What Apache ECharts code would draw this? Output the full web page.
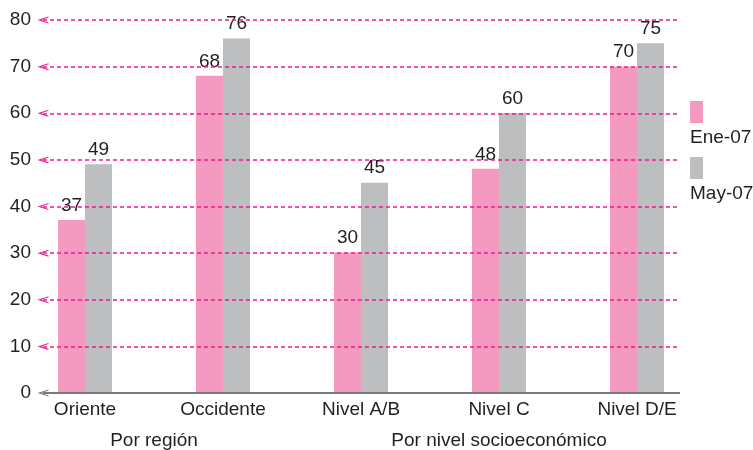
<!DOCTYPE html>
<html>
<head>
<meta charset="utf-8">
<script src="https://cdn.jsdelivr.net/npm/echarts@6/dist/echarts.min.js"></script>
<style>html,body{margin:0;padding:0;background:#fff}#c{width:753px;height:450px}</style>
</head>
<body>
<div id="c"></div>
<script>
// Chart data
const categories = ['Oriente', 'Occidente', 'Nivel A/B', 'Nivel C', 'Nivel D/E'];
const groupLabels = ['', '', 'Por región', '', '', '', '', 'Por nivel socioeconómico', '', '', ''];
const seriesNames = ['Ene-07', 'May-07'];
const ene07 = [37, 68, 30, 48, 70];
const may07 = [49, 76, 45, 60, 75];
const yTicks = [10, 20, 30, 40, 50, 60, 70, 80];

const textColor = '#231f20';
const font = 'Liberation Sans, Arial, Helvetica, sans-serif';
const pink = '#f49ac1';
const grey = '#bcbec0';
const magenta = '#ec1c8c';
const baseGrey = '#7a7a7a';
// open chevron used at the left end of each guide line
const chevron = 'path://M0,10 L5,0 L10,10 L8.4,10 L5,3.4 L1.6,10 Z';

const noSplit = { show: false };

const chart = echarts.init(document.getElementById('c'), null, { renderer: 'canvas' });
chart.setOption({
  animation: false,
  textStyle: { fontFamily: font },
  grid: [
    { left: 43, right: 73, top: 20, bottom: 57 },
    { left: 16, right: 47, top: 20, bottom: 57 }
  ],
  xAxis: [
    { gridIndex: 0, type: 'value', min: 0, max: 1, show: false, splitLine: noSplit },
    {
      gridIndex: 1, type: 'category', data: categories, splitLine: noSplit,
      axisLine: { show: false }, axisTick: { show: false },
      axisLabel: { fontSize: 19, color: textColor, margin: 8, fontFamily: font }
    },
    {
      gridIndex: 1, type: 'category', data: groupLabels, boundaryGap: false,
      position: 'bottom', offset: 31, splitLine: noSplit,
      axisLine: { show: false }, axisTick: { show: false },
      axisLabel: { interval: 0, fontSize: 19, color: textColor, margin: 8, fontFamily: font }
    }
  ],
  yAxis: [
    {
      gridIndex: 0, type: 'value', min: 0, max: 80, interval: 10,
      axisLine: { show: false }, axisTick: { show: false }, splitLine: noSplit,
      axisLabel: { fontSize: 19, color: textColor, margin: 12, fontFamily: font }
    },
    { gridIndex: 1, type: 'value', min: 0, max: 80, interval: 10, show: false, splitLine: noSplit }
  ],
  legend: [
    {
      data: seriesNames, orient: 'vertical', left: 685, top: 96,
      icon: 'rect', itemWidth: 13, itemHeight: 22, itemGap: 34,
      formatter: () => '', selectedMode: false
    },
    {
      data: seriesNames, orient: 'vertical', left: 680, top: 123,
      icon: 'none', itemWidth: 0, itemHeight: 20, itemGap: 36, selectedMode: false,
      textStyle: { fontSize: 19, color: textColor, fontFamily: font, lineHeight: 20 }
    }
  ],
  series: [
    {
      // dashed guide lines with chevrons
      type: 'line', xAxisIndex: 0, yAxisIndex: 0, data: [], silent: true, z: 1,
      color: magenta,
      markLine: {
        silent: true, animation: false,
        symbol: [chevron, 'none'], symbolSize: [7, 11],
        label: { show: false },
        lineStyle: { color: magenta, type: [4, 3], width: 1.6 },
        itemStyle: { color: magenta },
        data: yTicks.map(v => ({ yAxis: v }))
      }
    },
    {
      // baseline at zero
      type: 'line', xAxisIndex: 0, yAxisIndex: 0, data: [], silent: true, z: 1,
      color: baseGrey,
      markLine: {
        silent: true, animation: false,
        symbol: [chevron, 'none'], symbolSize: [7, 11],
        label: { show: false },
        lineStyle: { color: baseGrey, type: 'solid', width: 1.8 },
        itemStyle: { color: baseGrey },
        data: [{ yAxis: 0 }]
      }
    },
    {
      name: seriesNames[0], type: 'bar', xAxisIndex: 1, yAxisIndex: 1, z: 3,
      data: ene07, barWidth: 27, barGap: '0%',
      itemStyle: { color: pink },
      label: { show: true, position: 'top', distance: 5, fontSize: 19, color: textColor, fontFamily: font }
    },
    {
      name: seriesNames[1], type: 'bar', xAxisIndex: 1, yAxisIndex: 1, z: 3,
      data: may07, barWidth: 27, barGap: '0%',
      itemStyle: { color: grey },
      label: { show: true, position: 'top', distance: 5, fontSize: 19, color: textColor, fontFamily: font }
    }
  ]
});
</script>
</body>
</html>
